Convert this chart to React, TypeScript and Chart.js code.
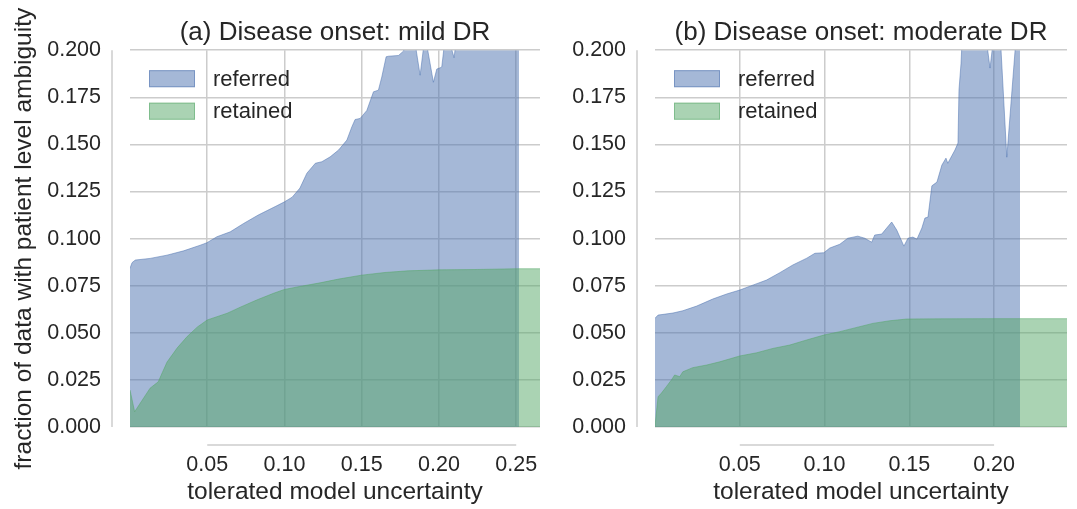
import { useEffect, useRef } from 'react';
import { Chart, registerables } from 'chart.js';

Chart.register(...registerables);

const FONT = '"Liberation Sans", Arial, sans-serif';
const TEXT = '#262626';
const GRID = '#cccccc';
const BLUE = 'rgba(76,114,176,0.5)';
const GREEN = 'rgba(85,168,104,0.5)';

const SERIES_LABELS = ['referred', 'retained'];
const Y_TICK_STEP = 0.025;
const Y_MAX = 0.2;

// (a) Disease onset: mild DR
const mildTitle = '(a) Disease onset: mild DR';
const mildXMax = 0.2654;
const mildXTicks = [0.05, 0.1, 0.15, 0.2, 0.25];
const mildReferredX = [0.0, 0.0013, 0.0034, 0.0131, 0.0239, 0.0347, 0.0455, 0.0498, 0.0563, 0.0649, 0.0735, 0.083, 0.094, 0.1, 0.105, 0.11, 0.1145, 0.12, 0.1242, 0.1296, 0.135, 0.1404, 0.1436, 0.1457, 0.149, 0.1533, 0.1576, 0.1608, 0.163, 0.1658, 0.1673, 0.1738, 0.177, 0.1802, 0.1845, 0.1878, 0.191, 0.1964, 0.1986, 0.2018, 0.2039, 0.207, 0.2098, 0.2115, 0.225, 0.2518];
const mildReferredY = [0.0842, 0.0872, 0.0886, 0.0895, 0.0912, 0.0935, 0.0965, 0.0978, 0.101, 0.1036, 0.108, 0.1125, 0.117, 0.1195, 0.122, 0.1268, 0.1347, 0.14, 0.1408, 0.1434, 0.147, 0.1523, 0.1593, 0.1632, 0.1638, 0.168, 0.1779, 0.1788, 0.1858, 0.1965, 0.1968, 0.1972, 0.1995, 0.206, 0.204, 0.1867, 0.208, 0.183, 0.19, 0.191, 0.206, 0.204, 0.196, 0.208, 0.215, 0.22];
const mildRetainedX = [0.0, 0.003, 0.0067, 0.013, 0.0183, 0.021, 0.024, 0.0306, 0.037, 0.0435, 0.05, 0.063, 0.0714, 0.082, 0.093, 0.1, 0.11, 0.123, 0.135, 0.15, 0.165, 0.18, 0.2, 0.225, 0.25, 0.2654];
const mildRetainedY = [0.0196, 0.0081, 0.0127, 0.0206, 0.024, 0.029, 0.0345, 0.042, 0.048, 0.053, 0.0568, 0.0604, 0.0636, 0.0674, 0.071, 0.073, 0.0746, 0.0765, 0.0785, 0.0806, 0.082, 0.0829, 0.0834, 0.0836, 0.084, 0.084];

// (b) Disease onset: moderate DR
const modTitle = '(b) Disease onset: moderate DR';
const modXMax = 0.243;
const modXTicks = [0.05, 0.1, 0.15, 0.2];
const modReferredX = [0.0, 0.0018, 0.0106, 0.0164, 0.0246, 0.034, 0.0423, 0.05, 0.0577, 0.0658, 0.0736, 0.0813, 0.0895, 0.0943, 0.0996, 0.1031, 0.109, 0.1137, 0.1196, 0.1237, 0.1278, 0.1296, 0.1337, 0.1396, 0.1426, 0.1468, 0.1492, 0.1521, 0.1545, 0.1574, 0.1592, 0.161, 0.1633, 0.1663, 0.1692, 0.1716, 0.1727, 0.1769, 0.1787, 0.1793, 0.1805, 0.1816, 0.19, 0.1955, 0.1976, 0.1995, 0.2035, 0.2075, 0.2123, 0.2135, 0.2153];
const modReferredY = [0.0577, 0.0594, 0.0605, 0.0617, 0.0642, 0.0679, 0.0706, 0.0727, 0.0753, 0.078, 0.0819, 0.086, 0.0896, 0.0922, 0.0925, 0.095, 0.097, 0.1002, 0.1013, 0.1002, 0.0981, 0.1019, 0.1024, 0.1088, 0.1045, 0.096, 0.1002, 0.1008, 0.0997, 0.1056, 0.1109, 0.1114, 0.128, 0.13, 0.139, 0.1427, 0.14, 0.147, 0.1507, 0.179, 0.193, 0.215, 0.22, 0.205, 0.1905, 0.205, 0.21, 0.1432, 0.199, 0.215, 0.22];
const modRetainedX = [0.0, 0.0018, 0.0038, 0.0067, 0.0097, 0.0116, 0.0146, 0.0164, 0.0223, 0.0305, 0.0382, 0.05, 0.06, 0.0695, 0.0795, 0.0895, 0.0996, 0.109, 0.1196, 0.1285, 0.1385, 0.1485, 0.168, 0.2, 0.243];
const modRetainedY = [0.0005, 0.016, 0.018, 0.0214, 0.025, 0.0276, 0.0267, 0.0293, 0.0315, 0.0329, 0.0346, 0.0377, 0.0394, 0.0417, 0.0435, 0.0462, 0.0488, 0.0506, 0.053, 0.055, 0.0564, 0.0573, 0.0574, 0.0575, 0.0575];

const X_LABEL = 'tolerated model uncertainty';
const Y_LABEL = 'fraction of data with patient level ambiguity';

const pts = (xs: number[], ys: number[]) => xs.map((x, i) => ({ x, y: ys[i] }));

const spinePlugin = {
  id: 'offsetSpines',
  afterDraw(chart: any) {
    const { ctx, chartArea, scales } = chart;
    const x = scales.x;
    const y = scales.y;
    ctx.save();
    ctx.strokeStyle = GRID;
    ctx.lineWidth = 1.5;
    const sx = chartArea.left - 18;
    ctx.beginPath();
    ctx.moveTo(sx, y.getPixelForValue(Y_MAX));
    ctx.lineTo(sx, y.getPixelForValue(0));
    ctx.stroke();
    const t = x.ticks;
    const sy = chartArea.bottom + 18;
    ctx.beginPath();
    ctx.moveTo(x.getPixelForValue(t[0].value), sy);
    ctx.lineTo(x.getPixelForValue(t[t.length - 1].value), sy);
    ctx.stroke();
    ctx.restore();
  },
};

const legendPlugin = {
  id: 'insideLegend',
  afterDraw(chart: any) {
    const { ctx, chartArea } = chart;
    ctx.save();
    chart.data.datasets.forEach((ds: any, i: number) => {
      const bx = chartArea.left + 19;
      const by = chartArea.top + 20 + i * 32.5;
      ctx.fillStyle = ds.backgroundColor;
      ctx.fillRect(bx, by, 46, 17);
      ctx.strokeStyle = ds.borderColor;
      ctx.lineWidth = 1;
      ctx.strokeRect(bx + 0.5, by + 0.5, 45, 16);
      ctx.fillStyle = TEXT;
      ctx.font = `22px ${FONT}`;
      ctx.textBaseline = 'middle';
      ctx.textAlign = 'left';
      ctx.fillText(ds.label, chartArea.left + 83, chartArea.top + 29.5 + i * 32.5);
    });
    ctx.restore();
  },
};

function makeConfig(p: any): any {
  return {
    type: 'line',
    data: {
      datasets: [
        {
          label: SERIES_LABELS[0],
          data: pts(p.refX, p.refY),
          fill: 'origin',
          backgroundColor: BLUE,
          borderColor: BLUE,
          borderWidth: 1,
          pointRadius: 0,
          tension: 0,
          order: 2,
        },
        {
          label: SERIES_LABELS[1],
          data: pts(p.retX, p.retY),
          fill: 'origin',
          backgroundColor: GREEN,
          borderColor: GREEN,
          borderWidth: 1,
          pointRadius: 0,
          tension: 0,
          order: 1,
        },
      ],
    },
    options: {
      animation: false,
      responsive: false,
      maintainAspectRatio: false,
      layout: { padding: { left: 0, right: p.padRight, top: 0, bottom: 0 } },
      plugins: {
        legend: { display: false },
        tooltip: { enabled: false },
        title: {
          display: true,
          text: p.title,
          fullSize: false,
          color: TEXT,
          font: { family: FONT, size: 26, weight: 'normal' },
          padding: { top: 17, bottom: 2 },
        },
      },
      scales: {
        x: {
          type: 'linear',
          min: 0,
          max: p.xMax,
          afterBuildTicks: (s: any) => {
            s.ticks = p.xTicks.map((v: number) => ({ value: v }));
          },
          afterFit: (s: any) => {
            s.height = 82;
          },
          ticks: {
            callback: (v: any) => Number(v).toFixed(2),
            color: TEXT,
            font: { family: FONT, size: 21.5 },
            padding: 0,
            maxRotation: 0,
            autoSkip: false,
          },
          grid: { color: GRID, lineWidth: 1.5, drawTicks: true, tickLength: 25, tickColor: 'rgba(0,0,0,0)' },
          border: { display: false },
          title: {
            display: true,
            text: X_LABEL,
            color: TEXT,
            font: { family: FONT, size: 24.5, weight: 'normal' },
            padding: { top: 0, bottom: 2 },
          },
        },
        y: {
          min: 0,
          max: Y_MAX,
          afterFit: (s: any) => {
            s.width = p.yWidth;
          },
          ticks: {
            stepSize: Y_TICK_STEP,
            callback: (v: any) => Number(v).toFixed(3),
            color: TEXT,
            font: { family: FONT, size: 21.5 },
            padding: 0,
          },
          grid: { color: GRID, lineWidth: 1.5, drawTicks: true, tickLength: 29, tickColor: 'rgba(0,0,0,0)' },
          border: { display: false },
          title: {
            display: !!p.yTitle,
            text: Y_LABEL,
            color: TEXT,
            font: { family: FONT, size: 24.5, weight: 'normal' },
            padding: { top: 10, bottom: 0 },
          },
        },
      },
    },
    plugins: [spinePlugin, legendPlugin],
  };
}

function Panel(props: { cfg: any; width: number; left: number }) {
  const ref = useRef<HTMLCanvasElement | null>(null);
  useEffect(() => {
    if (!ref.current) return;
    const chart = new Chart(ref.current, props.cfg);
    return () => chart.destroy();
  }, []);
  return (
    <canvas
      ref={ref}
      width={props.width}
      height={509}
      style={{ position: 'absolute', left: props.left, top: 0, width: props.width, height: 509, display: 'block' }}
    />
  );
}

export default function App() {
  const cfgA = makeConfig({
    title: mildTitle,
    xMax: mildXMax,
    xTicks: mildXTicks,
    refX: mildReferredX,
    refY: mildReferredY,
    retX: mildRetainedX,
    retY: mildRetainedY,
    yWidth: 130,
    padRight: 0,
    yTitle: true,
  });
  const cfgB = makeConfig({
    title: modTitle,
    xMax: modXMax,
    xTicks: modXTicks,
    refX: modReferredX,
    refY: modReferredY,
    retX: modRetainedX,
    retY: modRetainedY,
    yWidth: 115,
    padRight: 10,
    yTitle: false,
  });
  return (
    <div style={{ position: 'absolute', left: 0, top: 0, width: 1077, height: 509, background: '#fff' }}>
      <Panel cfg={cfgA} width={540} left={0} />
      <Panel cfg={cfgB} width={537} left={540} />
    </div>
  );
}
